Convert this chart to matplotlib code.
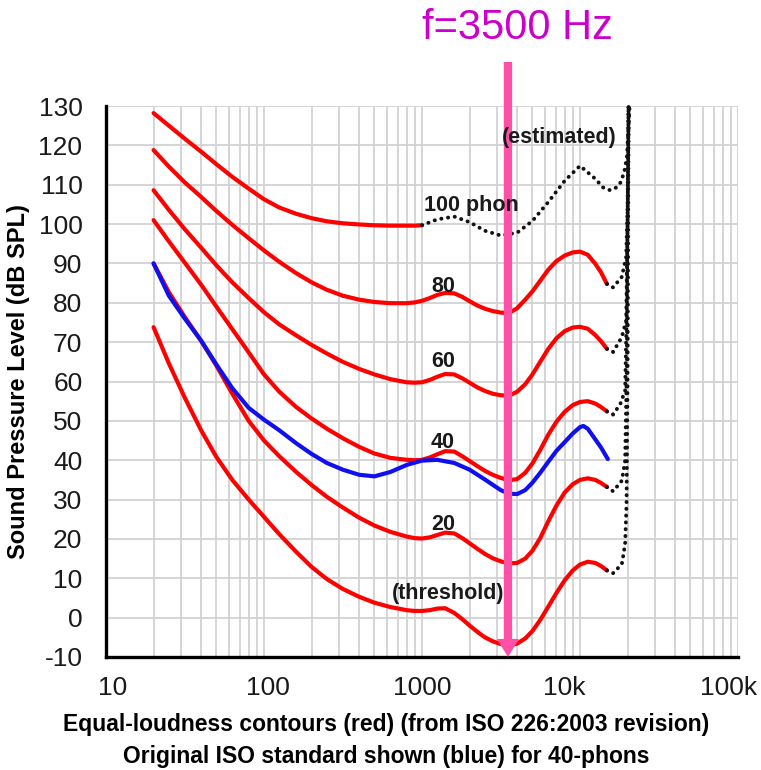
import matplotlib
matplotlib.use('Agg')
import matplotlib.pyplot as plt
from matplotlib.transforms import ScaledTranslation

plt.rcParams['font.family'] = ['Liberation Sans', 'DejaVu Sans']
plt.rcParams['axes.unicode_minus'] = False

# Frequências (Hz) das curvas de igual audibilidade
freq = [20, 25, 31.5, 40, 50, 63, 80, 100, 125, 160, 200, 250, 315, 400, 500, 630, 800, 900,
        1000, 1120, 1250, 1400, 1600, 1800, 2000, 2240, 2500, 2800, 3150, 3550, 4000, 4500,
        5000, 5600, 6300, 7100, 8000, 9000, 10000, 11200, 12500, 13600, 14800]

# Níveis (dB SPL) de cada contorno ISO 226:2003
phon_0 = [73.8, 64.6, 55.9, 47.6, 40.8, 35.0, 30.0, 25.6, 21.2, 16.7, 12.9, 9.8, 7.3, 5.3, 3.8,
          2.7, 1.9, 1.7, 1.7, 1.9, 2.3, 2.4, 1.2, -0.4, -2.0, -3.6, -5.0, -6.0, -6.7, -7.0,
          -6.6, -5.3, -3.4, -0.6, 2.8, 6.3, 9.5, 12.0, 13.5, 14.2, 13.9, 13.1, 12.0]
phon_20 = [90.0, 82.7, 76.4, 70.3, 64.0, 56.9, 50.0, 45.0, 41.0, 37.0, 33.7, 30.7, 28.0, 25.4,
           23.4, 21.8, 20.6, 20.2, 20.1, 20.4, 21.0, 21.6, 21.4, 20.2, 18.9, 17.5, 16.2, 15.1,
           14.3, 13.8, 13.9, 15.0, 17.0, 20.2, 24.5, 28.5, 31.8, 33.9, 35.0, 35.4, 35.0, 34.2,
           33.2]
phon_40 = [101.0, 95.6, 90.2, 84.6, 79.0, 73.3, 67.4, 61.8, 57.4, 53.5, 50.6, 48.0, 45.6, 43.4,
           41.7, 40.6, 40.1, 40.0, 40.1, 40.7, 41.5, 42.3, 42.2, 41.0, 39.8, 38.5, 37.3, 36.3,
           35.5, 34.9, 35.2, 36.8, 39.2, 42.6, 46.5, 49.8, 52.3, 54.0, 54.8, 55.0, 54.4, 53.5,
           52.4]
phon_60 = [108.6, 103.6, 98.7, 94.0, 89.5, 85.2, 81.2, 77.6, 74.5, 71.7, 69.3, 67.1, 65.0, 63.2,
           61.8, 60.6, 59.8, 59.7, 59.8, 60.4, 61.2, 61.9, 61.8, 60.8, 59.7, 58.5, 57.6, 56.9,
           56.5, 56.4, 57.4, 59.3, 61.8, 65.0, 68.3, 71.0, 72.8, 73.7, 73.9, 73.4, 71.8, 70.2,
           68.3]
phon_80 = [118.8, 114.6, 110.6, 106.9, 103.3, 99.8, 96.4, 93.3, 90.4, 87.5, 85.2, 83.3, 81.8,
           80.8, 80.2, 79.9, 79.9, 80.1, 80.5, 81.2, 82.0, 82.5, 82.4, 81.5, 80.4, 79.3, 78.5,
           77.9, 77.5, 77.4, 78.6, 80.8, 82.9, 85.6, 88.4, 90.6, 92.0, 92.8, 93.0, 92.2, 89.9,
           87.7, 84.8]
phon_100 = [128.2, 125.0, 121.7, 118.4, 115.2, 112.0, 109.0, 106.3, 104.2, 102.6, 101.5, 100.7,
            100.2, 99.9, 99.7, 99.6, 99.6, 99.6, 99.7]

# Norma ISO original, 40 phons (azul)
freq_orig = [20, 25, 31.5, 40, 50, 63, 80, 100, 125, 160, 200, 250, 315, 400, 500, 630, 800,
             1000, 1250, 1600, 2000, 2500, 3150, 3550, 4000, 4500, 5000, 5600, 6300, 7100,
             8000, 9000, 10000, 10500, 11200, 12500, 13600, 15000]
orig_40 = [90.0, 81.8, 76.0, 70.4, 64.3, 58.3, 53.3, 50.3, 47.6, 44.3, 41.6, 39.3, 37.6, 36.3,
           35.9, 37.0, 38.8, 39.9, 40.1, 39.3, 37.6, 35.1, 32.4, 31.5, 31.4, 32.4, 34.3, 36.8,
           39.6, 42.4, 44.6, 46.8, 48.4, 48.7, 48.0, 45.3, 43.2, 40.3]

# Trechos estimados (pontilhados)
est_f_100 = [1000, 1250, 1600, 2000, 2500, 3150, 4000, 5000, 6300, 8000, 10000, 12500, 14000,
             15500, 17000, 18000, 19000, 19800, 20200, 20600]
est_100 = [99.7, 101.2, 101.9, 100.5, 98.3, 97.1, 97.8, 100.8, 105.6, 111.0, 114.8, 111.5,
           109.3, 108.6, 109.3, 110.5, 113.0, 117.0, 123.0, 130.0]
est_f_80 = [14800, 16200, 18400, 19600, 20000, 20300]
est_80 = [84.8, 83.9, 86.6, 91.7, 105.0, 130.0]
est_f_60 = [14800, 16200, 18400, 19600, 20000, 20300]
est_60 = [68.3, 67.5, 71.3, 75.5, 100.0, 130.0]
est_f_40 = [14800, 16200, 18000, 19300, 19800, 20300]
est_40 = [52.4, 51.6, 54.3, 57.7, 80.0, 130.0]
est_f_20 = [14800, 16200, 18400, 19300, 19800, 20300]
est_20 = [33.2, 32.1, 34.8, 39.9, 65.0, 130.0]
est_f_0 = [14800, 16200, 18400, 19300, 19700, 20000, 20300]
est_0 = [12.0, 11.3, 13.6, 18.7, 28.9, 60.0, 130.0]

arrow_freq = 3500

xtick_vals = [10, 100, 1000, 10000, 100000]
xtick_text = ['10', '100', '1000', '10k', '100k']
xtick_shift = [5, 3, 0, -11, -7]  # pontos

fig = plt.figure(figsize=(7.61, 7.70), dpi=100)
ax = fig.add_axes([106 / 761, 1 - 657 / 770, 632 / 761, 551 / 770])
ax.set_xscale('log')
ax.set_xlim(10, 100000)
ax.set_ylim(-10, 130)

# Grade
ax.grid(which='both', axis='x', color='#d2d2d2', lw=1.3)
ax.grid(which='major', axis='y', color='#d2d2d2', lw=1.3)
ax.set_axisbelow(True)

red = '#ff0000'
for vals in [phon_0, phon_20, phon_40, phon_60, phon_80]:
    ax.plot(freq, vals, color=red, lw=3, solid_capstyle='round', solid_joinstyle='round',
            zorder=3)
ax.plot(freq[:len(phon_100)], phon_100, color=red, lw=3, solid_capstyle='round',
        solid_joinstyle='round', zorder=3)
ax.plot(freq_orig, orig_40, color='#1010ee', lw=3, solid_capstyle='round',
        solid_joinstyle='round', zorder=3.5)

dot_style = dict(color='#111111', lw=2.8, ls=(0, (0.05, 1.7)), dash_capstyle='round', zorder=3)
for f, v in [(est_f_100, est_100), (est_f_80, est_80), (est_f_60, est_60),
             (est_f_40, est_40), (est_f_20, est_20), (est_f_0, est_0)]:
    ax.plot(f, v, clip_on=False, **dot_style)

# Seta da frequência de interesse
ax.annotate('', xy=(arrow_freq, -10), xytext=(arrow_freq, 141.2),
            arrowprops=dict(arrowstyle='simple,head_length=0.65,head_width=0.8,tail_width=0.3',
                            color='#ff50a8', lw=0, shrinkA=0, shrinkB=0, mutation_scale=20),
            annotation_clip=False, zorder=4)
ax.annotate(f'f={arrow_freq} Hz', xy=(arrow_freq, 1), xycoords=('data', 'axes fraction'),
            xytext=(7, 56), textcoords='offset points', ha='center', va='center',
            fontsize=30, color='#cc00cc', annotation_clip=False)

# Rótulos das curvas
lab = dict(fontsize=15.5, fontweight='bold', color='#1a1a1a', ha='center', va='center', zorder=5)
ax.text(2040, 104.8, '100 phon', **lab)
ax.text(1360, 84.2, '80', **lab)
ax.text(1360, 65.1, '60', **lab)
ax.text(1360, 44.5, '40', **lab)
ax.text(1360, 23.6, '20', **lab)
ax.text(1460, 6.1, '(threshold)', **lab)
ax.text(7360, 121.9, '(estimated)', **lab)

# Eixos
for side in ['top', 'right']:
    ax.spines[side].set_visible(False)
for side in ['left', 'bottom']:
    ax.spines[side].set_linewidth(2.4)
    ax.spines[side].set_color('black')

ax.set_yticks(range(-10, 131, 10))
ax.set_xticks(xtick_vals)
ax.set_xticklabels(xtick_text)
ax.tick_params(axis='both', which='both', length=0, labelsize=19, colors='#1a1a1a')
ax.tick_params(axis='y', pad=17)
ax.tick_params(axis='x', pad=14)
for lbl, dx in zip(ax.get_xticklabels(), xtick_shift):
    lbl.set_transform(lbl.get_transform() + ScaledTranslation(dx / 72, 0, fig.dpi_scale_trans))

ax.set_ylabel('Sound Pressure Level (dB SPL)', fontsize=17, fontweight='bold', labelpad=6)

fig.text(0.507, 1 - 725 / 770, 'Equal-loudness contours (red) (from ISO 226:2003 revision)',
         ha='center', va='center', fontsize=16.5, fontweight='bold')
fig.text(0.507, 1 - 757 / 770, 'Original ISO standard shown (blue) for 40-phons',
         ha='center', va='center', fontsize=16.5, fontweight='bold')

fig.savefig('out.png', dpi=100)
plt.close(fig)
